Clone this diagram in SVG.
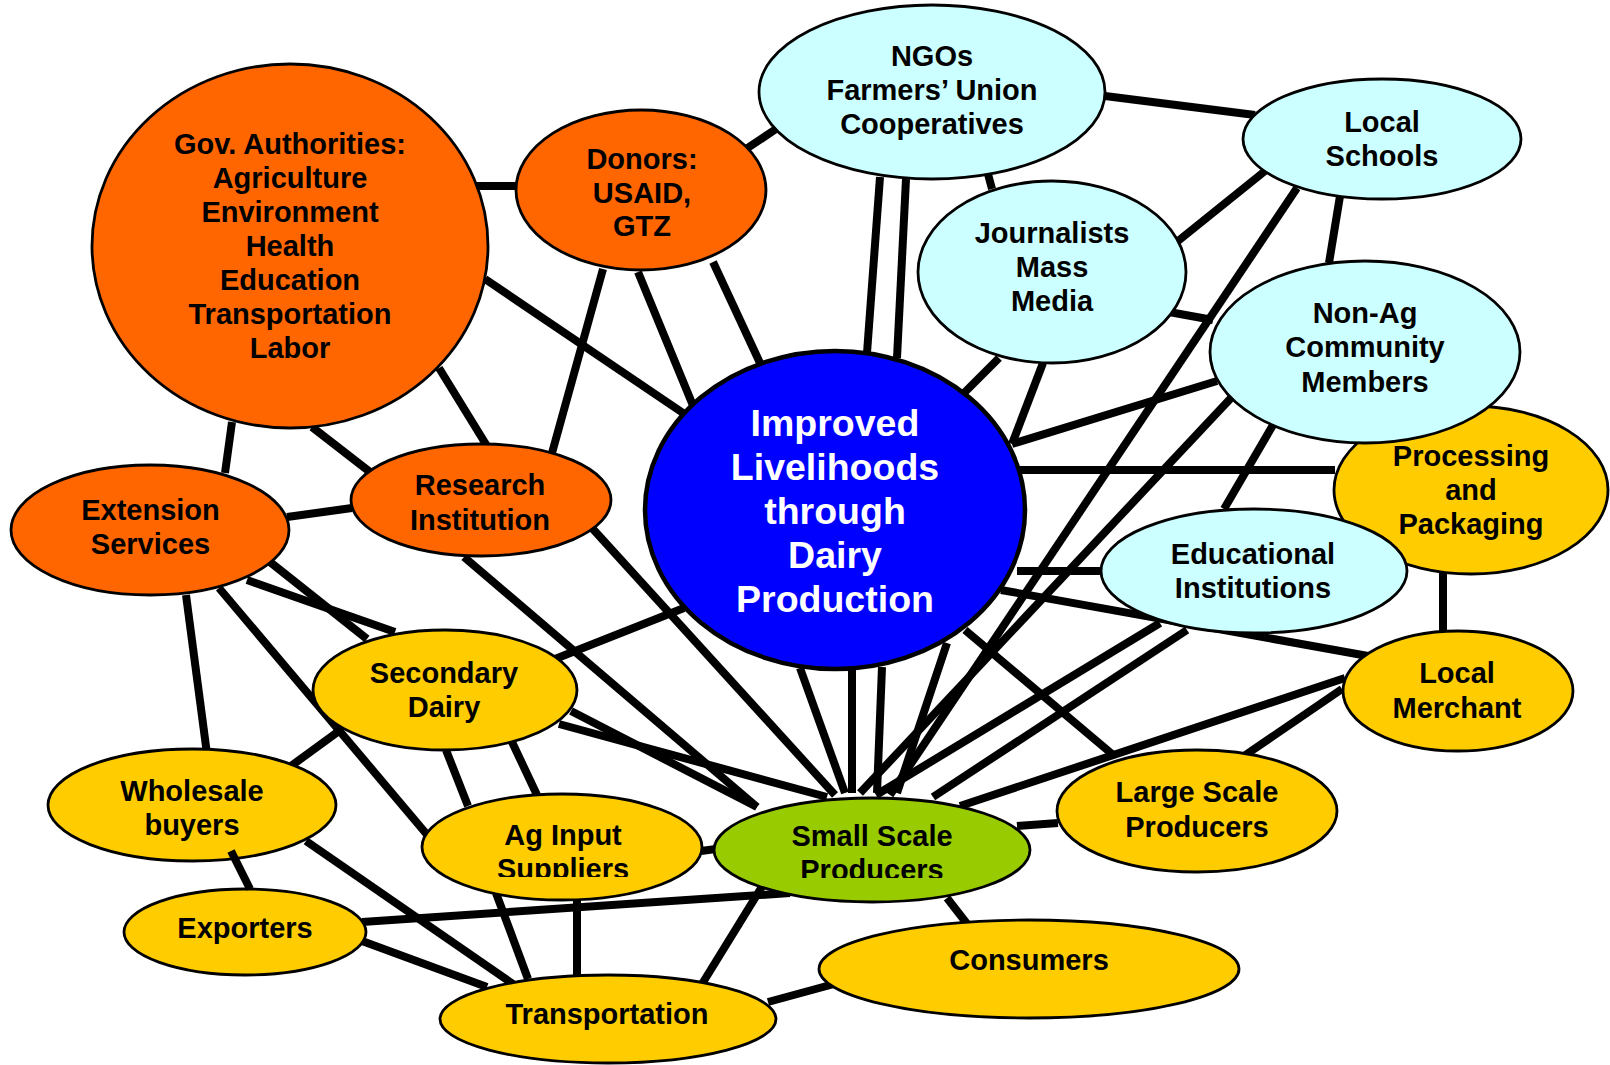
<svg xmlns="http://www.w3.org/2000/svg" width="1610" height="1065" viewBox="0 0 1610 1065">
<style>
.bg{fill:#ffffff}
.c line{stroke:#000;stroke-width:8;stroke-linecap:butt}
.n ellipse{stroke:#000;stroke-width:2.8}
.or{fill:#FF6600}
.cy{fill:#CCFFFF}
.ye{fill:#FFCC00}
.gr{fill:#99CC00}
.bl{fill:#0000FF;stroke-width:4.5 !important}
text{font-family:"Liberation Sans",Arial,Helvetica,sans-serif;font-weight:bold;font-size:29px;text-anchor:middle;fill:#000}
text.w{fill:#fff;font-size:37.5px}
</style>
<defs>
<clipPath id="clipSmall"><rect x="700" y="780" width="340" height="98"/></clipPath>
<clipPath id="clipAg"><rect x="410" y="780" width="300" height="97"/></clipPath>
</defs>
<rect class="bg" x="0" y="0" width="1610" height="1065"/>
<g id="connectors" class="c">
<line x1="474" y1="186" x2="518" y2="186"/>
<line x1="485" y1="279" x2="686" y2="415"/>
<line x1="439" y1="368" x2="487" y2="446"/>
<line x1="312" y1="427" x2="370" y2="472"/>
<line x1="232" y1="422" x2="225" y2="473"/>
<line x1="603" y1="269" x2="552" y2="453"/>
<line x1="638" y1="272" x2="694" y2="408"/>
<line x1="713" y1="262" x2="760" y2="363"/>
<line x1="746" y1="149" x2="776" y2="129"/>
<line x1="287" y1="517" x2="352" y2="508"/>
<line x1="1105" y1="96" x2="1255" y2="115"/>
<line x1="880" y1="177" x2="867" y2="353"/>
<line x1="906" y1="179" x2="897" y2="358"/>
<line x1="988" y1="174" x2="992" y2="189"/>
<line x1="1178" y1="241" x2="1265" y2="171"/>
<line x1="1169" y1="312" x2="1213" y2="320"/>
<line x1="999" y1="358" x2="964" y2="393"/>
<line x1="1043" y1="363" x2="1012" y2="444"/>
<line x1="1340" y1="196" x2="1329" y2="263"/>
<line x1="1297" y1="188" x2="890" y2="795"/>
<line x1="1217" y1="381" x2="1012" y2="444"/>
<line x1="1019" y1="470" x2="1335" y2="470"/>
<line x1="1273" y1="425" x2="1224" y2="509"/>
<line x1="1231" y1="398" x2="860" y2="793"/>
<line x1="1017" y1="571" x2="1102" y2="571"/>
<line x1="1001" y1="590" x2="1368" y2="656"/>
<line x1="1443" y1="573" x2="1443" y2="632"/>
<line x1="965" y1="630" x2="1112" y2="754"/>
<line x1="1345" y1="678" x2="960" y2="806"/>
<line x1="1342" y1="689" x2="1244" y2="756"/>
<line x1="1058" y1="823" x2="1017" y2="826"/>
<line x1="947" y1="898" x2="968" y2="925"/>
<line x1="834" y1="984" x2="768" y2="1002"/>
<line x1="1160" y1="623" x2="876" y2="795"/>
<line x1="1187" y1="630" x2="933" y2="797"/>
<line x1="800" y1="668" x2="845" y2="793"/>
<line x1="852" y1="669" x2="852" y2="793"/>
<line x1="882" y1="667" x2="877" y2="793"/>
<line x1="947" y1="643" x2="897" y2="793"/>
<line x1="186" y1="595" x2="207" y2="754"/>
<line x1="219" y1="588" x2="429" y2="837"/>
<line x1="247" y1="580" x2="395" y2="632"/>
<line x1="270" y1="562" x2="367" y2="639"/>
<line x1="555" y1="659" x2="684" y2="608"/>
<line x1="571" y1="711" x2="757" y2="807"/>
<line x1="559" y1="724" x2="827" y2="797"/>
<line x1="339" y1="731" x2="291" y2="766"/>
<line x1="446" y1="750" x2="468" y2="806"/>
<line x1="512" y1="742" x2="537" y2="795"/>
<line x1="464" y1="557" x2="757" y2="807"/>
<line x1="592" y1="528" x2="835" y2="795"/>
<line x1="306" y1="841" x2="513" y2="984"/>
<line x1="362" y1="922" x2="790" y2="893"/>
<line x1="362" y1="941" x2="487" y2="987"/>
<line x1="496" y1="893" x2="528" y2="979"/>
<line x1="577" y1="900" x2="577" y2="975"/>
<line x1="763" y1="885" x2="702" y2="984"/>
<line x1="701" y1="851" x2="716" y2="849"/>
</g>
<g class="n">
<g id="gov"><ellipse class="or" cx="290" cy="246" rx="198" ry="182"/>
<text x="290" y="154">Gov. Authorities:</text><text x="290" y="188">Agriculture</text><text x="290" y="222">Environment</text><text x="290" y="256">Health</text><text x="290" y="290">Education</text><text x="290" y="323.5">Transportation</text><text x="290" y="357.5">Labor</text></g>
<g id="donors"><ellipse class="or" cx="641" cy="190" rx="125" ry="80"/>
<text x="642" y="169">Donors:</text><text x="642" y="202.5">USAID,</text><text x="642" y="236">GTZ</text></g>
<g id="ngos"><ellipse class="cy" cx="932" cy="92" rx="173" ry="87"/>
<text x="932" y="65.5">NGOs</text><text x="932" y="100">Farmers’ Union</text><text x="932" y="134">Cooperatives</text></g>
<g id="schools"><ellipse class="cy" cx="1382" cy="139" rx="139" ry="60"/>
<text x="1382" y="132">Local</text><text x="1382" y="166">Schools</text></g>
<g id="journalists"><ellipse class="cy" cx="1052" cy="272" rx="134" ry="91"/>
<text x="1052" y="243">Journalists</text><text x="1052" y="277">Mass</text><text x="1052" y="311">Media</text></g>
<g id="processing"><ellipse class="ye" cx="1471" cy="490" rx="137" ry="84"/>
<text x="1471" y="465.5">Processing</text><text x="1471" y="499.5">and</text><text x="1471" y="533.5">Packaging</text></g>
<g id="nonag"><ellipse class="cy" cx="1365" cy="352" rx="155" ry="91"/>
<text x="1365" y="323">Non-Ag</text><text x="1365" y="357">Community</text><text x="1365" y="391.5">Members</text></g>
<g id="educational"><ellipse class="cy" cx="1254" cy="571" rx="153" ry="62"/>
<text x="1253" y="564">Educational</text><text x="1253" y="598">Institutions</text></g>
<g id="merchant"><ellipse class="ye" cx="1458" cy="691" rx="115" ry="60"/>
<text x="1457" y="683">Local</text><text x="1457" y="717.5">Merchant</text></g>
<g id="large"><ellipse class="ye" cx="1197" cy="811" rx="140" ry="61"/>
<text x="1197" y="802">Large Scale</text><text x="1197" y="836.5">Producers</text></g>
<g id="consumers"><ellipse class="ye" cx="1029" cy="969" rx="210" ry="49"/>
<text x="1029" y="970">Consumers</text></g>
<g id="small"><ellipse class="gr" cx="872" cy="850" rx="158" ry="52"/>
<g clip-path="url(#clipSmall)"><text x="872" y="846">Small Scale</text><text x="872" y="880">Producers</text></g></g>
<g id="aginput"><ellipse class="ye" cx="562" cy="847" rx="140" ry="53"/>
<g clip-path="url(#clipAg)"><text x="563" y="845">Ag Input</text><text x="563" y="879">Suppliers</text></g></g>
<g id="secondary"><ellipse class="ye" cx="445" cy="690" rx="132" ry="60"/>
<text x="444" y="683">Secondary</text><text x="444" y="716.5">Dairy</text></g>
<g id="wholesale"><ellipse class="ye" cx="192" cy="805" rx="144" ry="56"/>
<text x="192" y="801">Wholesale</text><text x="192" y="834.5">buyers</text></g>
<g id="exporters"><ellipse class="ye" cx="245" cy="932" rx="121" ry="43"/>
<text x="245" y="938">Exporters</text></g>
<g id="transportation"><ellipse class="ye" cx="608" cy="1019" rx="168" ry="44"/>
<text x="607" y="1024">Transportation</text></g>
<g id="extension"><ellipse class="or" cx="150" cy="530" rx="139" ry="65"/>
<text x="150.5" y="519.5">Extension</text><text x="150.5" y="553.5">Services</text></g>
<g id="research"><ellipse class="or" cx="481" cy="500" rx="130" ry="56"/>
<text x="480" y="495">Research</text><text x="480" y="529.5">Institution</text></g>
<g id="central"><ellipse class="bl" cx="835" cy="510" rx="190" ry="159"/>
<text class="w" x="835" y="435.5">Improved</text><text class="w" x="835" y="479.5">Livelihoods</text><text class="w" x="835" y="523.5">through</text><text class="w" x="835" y="567.5">Dairy</text><text class="w" x="835" y="611.5">Production</text></g>
</g>
<g id="connectors-over" class="c">
<line x1="231" y1="851" x2="250" y2="889"/>
</g>
</svg>
